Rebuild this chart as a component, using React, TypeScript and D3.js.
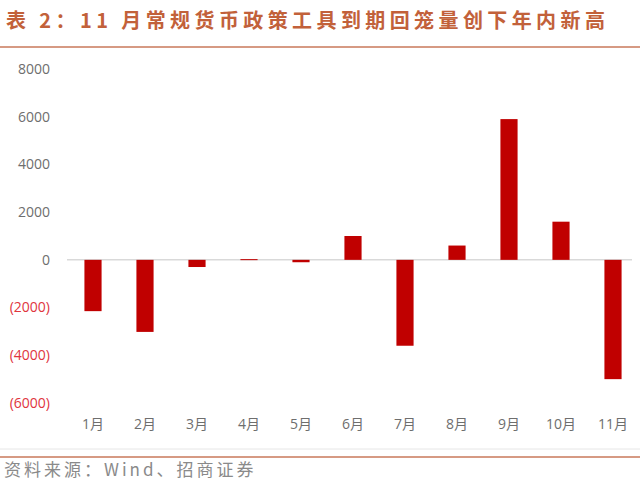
import { useEffect, useMemo, useRef } from "react";
import * as d3 from "d3";

const WIDTH = 640;
const HEIGHT = 482;

const months = ["1月", "2月", "3月", "4月", "5月", "6月", "7月", "8月", "9月", "10月", "11月"];
const values = [-2150, -3020, -300, 30, -100, 1000, -3600, 600, 5900, 1600, -5000];
const yTicks = [8000, 6000, 4000, 2000, 0, -2000, -4000, -6000];

const TITLE = "表 2：11 月常规货币政策工具到期回笼量创下年内新高";
const SOURCE = "资料来源：Wind、招商证券";

const fmt = (v: number) => (v < 0 ? `(${Math.abs(v)})` : `${v}`);

export default function App() {
  const axesRef = useRef<SVGGElement>(null);

  const xScale = useMemo(
    () => d3.scaleBand<string>().domain(months).range([67, 639]).paddingInner(0.67).paddingOuter(0.335),
    []
  );
  const yScale = useMemo(() => d3.scaleLinear().domain([-6000, 8000]).range([403, 69]), []);

  useEffect(() => {
    const g = d3.select(axesRef.current);
    g.selectAll("*").remove();

    // y labels, negatives in red parentheses like the Excel original
    g.selectAll("text.y")
      .data(yTicks)
      .join("text")
      .attr("class", "y")
      .attr("x", 50)
      .attr("y", (d) => yScale(d))
      .attr("dy", "0.35em")
      .attr("text-anchor", "end")
      .attr("font-size", 14)
      .attr("font-family", "'Open Sans', 'Noto Sans', sans-serif")
      .attr("fill", (d) => (d < 0 ? "#e0353d" : "#6e6e6e"))
      .text((d) => fmt(d));

    g.selectAll("text.x")
      .data(months)
      .join("text")
      .attr("class", "x")
      .attr("x", (d) => xScale(d)! + xScale.bandwidth() / 2)
      .attr("y", 424)
      .attr("dy", "0.35em")
      .attr("text-anchor", "middle")
      .attr("font-size", 14)
      .attr("font-family", "'Open Sans', 'Noto Sans CJK SC', sans-serif")
      .attr("fill", "#6e6e6e")
      .text((d) => d);
  }, [xScale, yScale]);

  const bars = months.map((m, i) => {
    const v = values[i];
    const y0 = yScale(0);
    const y1 = yScale(v);
    return (
      <rect
        key={m}
        x={xScale(m)}
        width={xScale.bandwidth()}
        y={Math.min(y0, y1)}
        height={Math.max(Math.abs(y1 - y0), 1)}
        fill="#c00000"
      />
    );
  });

  return (
    <svg
      width={WIDTH}
      height={HEIGHT}
      style={{ position: "absolute", left: 0, top: 0, background: "#fff" }}
    >
      <text
        x={6}
        y={21}
        dy="0.35em"
        fontSize={20}
        fontWeight="bold"
        letterSpacing={4.4}
        fontFamily="'Noto Sans CJK SC', sans-serif"
        fill="#c2613a"
      >
        {TITLE}
      </text>
      <line x1={0} x2={WIDTH} y1={47} y2={47} stroke="#c8785a" strokeWidth={1.5} />

      <line x1={67} x2={632} y1={yScale(0)} y2={yScale(0)} stroke="#d9d9d9" strokeWidth={1.5} />
      <g>{bars}</g>
      <g ref={axesRef} />

      <line x1={0} x2={WIDTH} y1={449} y2={449} stroke="#e6e6e6" strokeWidth={1} />
      <line x1={0} x2={WIDTH} y1={457} y2={457} stroke="#c8785a" strokeWidth={1.5} />
      <text
        x={4}
        y={470}
        dy="0.35em"
        fontSize={17}
        letterSpacing={3}
        fontFamily="'Noto Sans CJK SC', sans-serif"
        fill="#8a8a8a"
      >
        {SOURCE}
      </text>
    </svg>
  );
}
